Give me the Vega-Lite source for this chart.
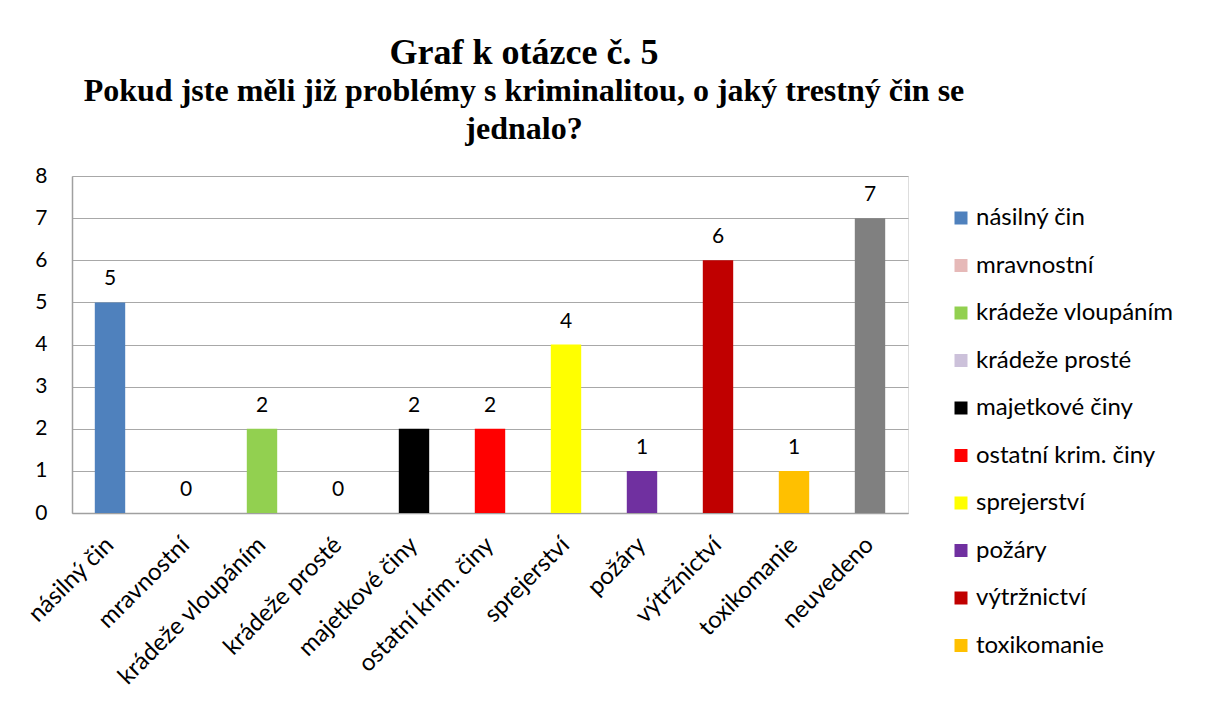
{
  "$schema": "https://vega.github.io/schema/vega-lite/v6.json",
  "width": 836,
  "height": 337,
  "autosize": {"type": "none"},
  "padding": {"left": 72, "top": 176, "right": 301, "bottom": 205},
  "background": "white",
  "title": {
    "text": "Graf k otázce č. 5",
    "subtitle": ["Pokud jste měli již problémy s kriminalitou, o jaký trestný čin se", "jednalo?"],
    "font": "Liberation Serif",
    "fontSize": 36,
    "fontWeight": "bold",
    "color": "black",
    "subtitleFont": "Liberation Serif",
    "subtitleFontSize": 32,
    "subtitleFontWeight": "bold",
    "subtitleColor": "black",
    "subtitleLineHeight": 38,
    "subtitlePadding": 4,
    "anchor": "middle",
    "frame": "group",
    "dx": 34,
    "offset": 19
  },
  "data": {
    "values": [
      {"kategorie": "násilný čin", "pocet": 5},
      {"kategorie": "mravnostní", "pocet": 0},
      {"kategorie": "krádeže vloupáním", "pocet": 2},
      {"kategorie": "krádeže prosté", "pocet": 0},
      {"kategorie": "majetkové činy", "pocet": 2},
      {"kategorie": "ostatní krim. činy", "pocet": 2},
      {"kategorie": "sprejerství", "pocet": 4},
      {"kategorie": "požáry", "pocet": 1},
      {"kategorie": "výtržnictví", "pocet": 6},
      {"kategorie": "toxikomanie", "pocet": 1},
      {"kategorie": "neuvedeno", "pocet": 7}
    ]
  },
  "encoding": {
    "x": {
      "field": "kategorie",
      "type": "nominal",
      "sort": null,
      "title": null,
      "scale": {"paddingInner": 0.6, "paddingOuter": 0.3},
      "axis": {
        "labelAngle": -45,
        "labelAlign": "right",
        "labelBaseline": "middle",
        "labelFont": "Lato",
        "labelFontSize": 24,
        "labelColor": "black",
        "labelPadding": 28,
        "labelLimit": 300,
        "ticks": false,
        "domainColor": "#a0a0a0",
        "domainWidth": 1.5,
        "grid": false
      }
    },
    "y": {
      "field": "pocet",
      "type": "quantitative",
      "title": null,
      "scale": {"domain": [0, 8], "nice": false},
      "axis": {
        "values": [0, 1, 2, 3, 4, 5, 6, 7, 8],
        "labelFont": "Lato",
        "labelFontSize": 21,
        "labelColor": "black",
        "labelPadding": 25,
        "ticks": false,
        "grid": true,
        "gridColor": "#a8a8a8",
        "gridWidth": 1.2,
        "domainColor": "#a0a0a0",
        "domainWidth": 1.5
      }
    }
  },
  "layer": [
    {
      "mark": {"type": "bar"},
      "encoding": {
        "color": {
          "field": "kategorie",
          "type": "nominal",
          "sort": null,
          "scale": {
            "domain": ["násilný čin", "mravnostní", "krádeže vloupáním", "krádeže prosté", "majetkové činy", "ostatní krim. činy", "sprejerství", "požáry", "výtržnictví", "toxikomanie", "neuvedeno"],
            "range": ["#4F81BD", "#E6B9B8", "#92D050", "#CCC1DA", "#000000", "#FF0000", "#FFFF00", "#7030A0", "#C00000", "#FFC000", "#808080"]
          },
          "legend": {
            "values": ["násilný čin", "mravnostní", "krádeže vloupáním", "krádeže prosté", "majetkové činy", "ostatní krim. činy", "sprejerství", "požáry", "výtržnictví", "toxikomanie"],
            "title": null,
            "orient": "none",
            "legendX": 877,
            "legendY": 30,
            "symbolType": "square",
            "symbolSize": 169,
            "symbolStrokeWidth": 0,
            "labelFont": "Lato",
            "labelFontSize": 24,
            "labelColor": "black",
            "labelOffset": 3,
            "rowPadding": 23.5,
            "labelLimit": 300
          }
        }
      }
    },
    {
      "mark": {"type": "text", "baseline": "alphabetic", "dy": -17, "font": "Lato", "fontSize": 21, "color": "black"},
      "encoding": {
        "text": {"field": "pocet", "type": "quantitative"}
      }
    }
  ]
}
